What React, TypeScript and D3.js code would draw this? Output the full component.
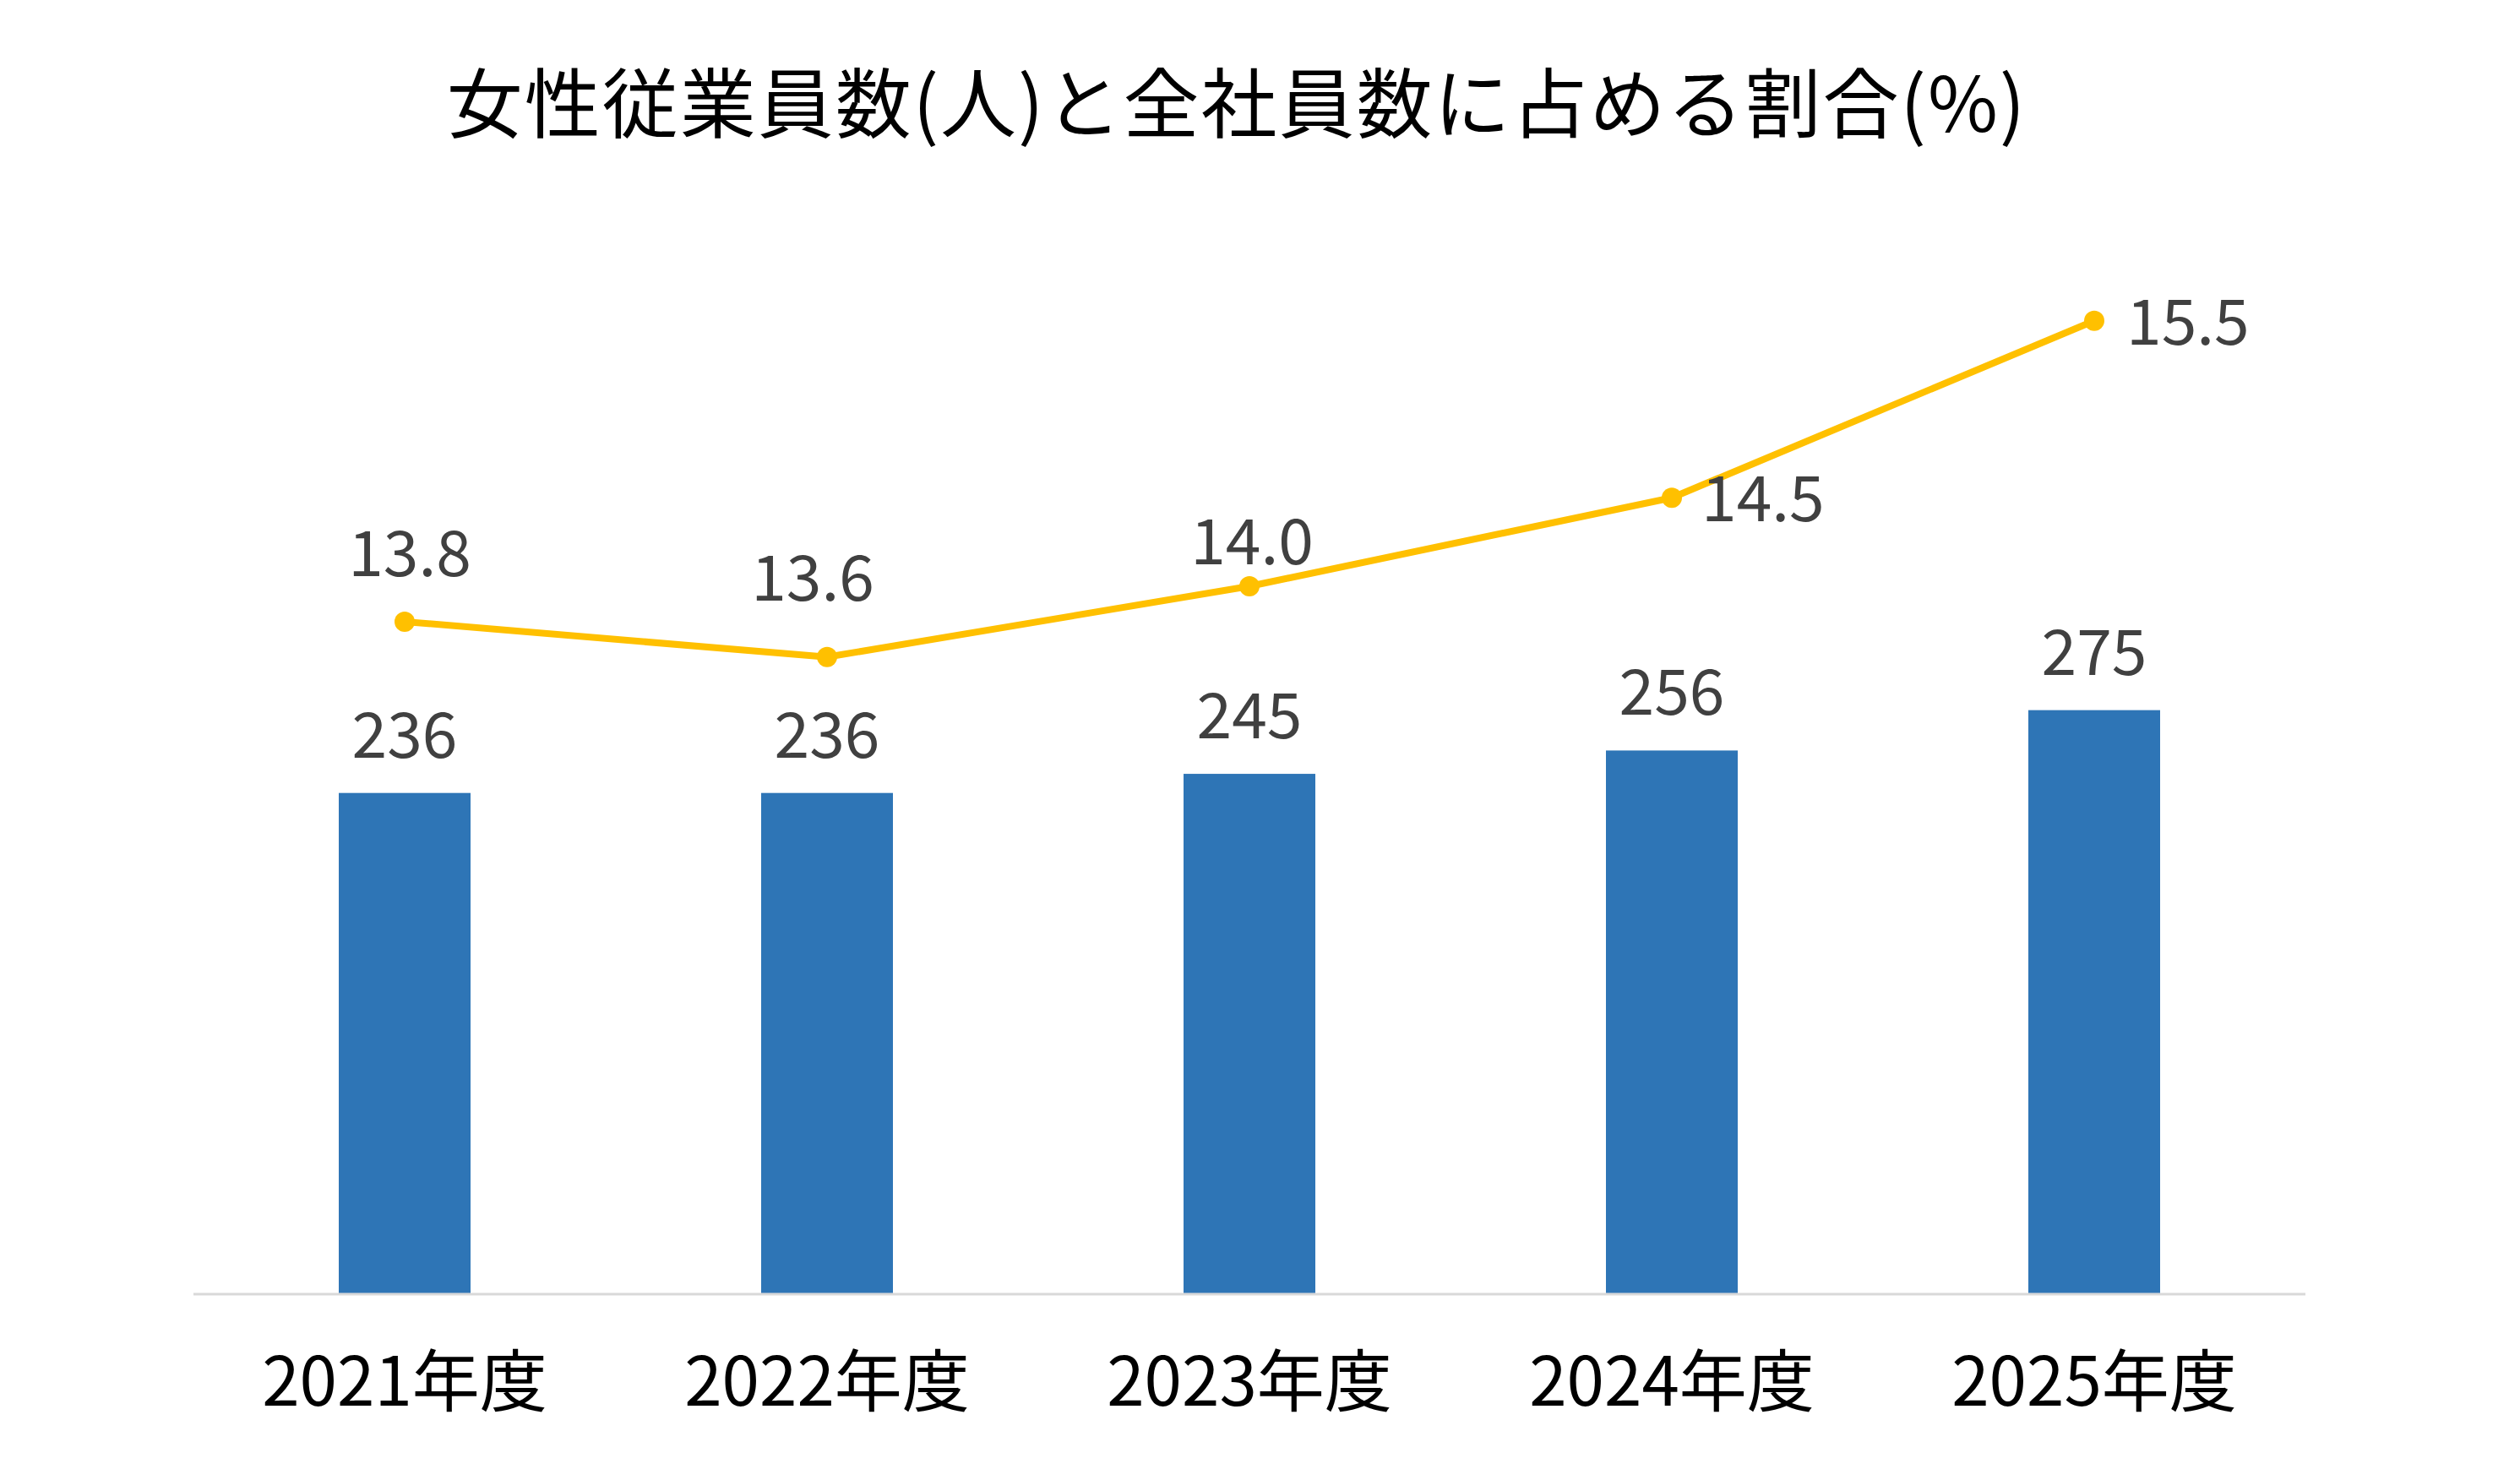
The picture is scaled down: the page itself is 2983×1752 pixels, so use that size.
import { useEffect } from 'react';
import * as d3 from 'd3';

const categories = ['2021年度', '2022年度', '2023年度', '2024年度', '2025年度'];
const femaleCounts = [236, 236, 245, 256, 275];
const femaleRatio = [13.8, 13.6, 14.0, 14.5, 15.5];
const countDomain = [0, 500];
const ratioDomain = [10, 16];
const title = '女性従業員数(人)と全社員数に占める割合(%)';

// hand-placed ratio labels, like the original chart: [dx, dy, anchor]
const ratioLabelNudge: [number, number, string][] = [
  [6, -54, 'middle'],
  [-17, -67, 'middle'],
  [3, -26, 'middle'],
  [35, 28, 'start'],
  [38, 28, 'start'],
];

const W = 2983;
const H = 1752;
const FONT = '"Noto Sans CJK JP", "Noto Sans", sans-serif';

export default function App() {
  useEffect(() => {
    document.body.style.margin = '0';
    document.body.style.overflow = 'hidden';
  }, []);

  const left = 229;
  const right = 2729;
  const bottom = 1532;
  const top = 275;

  const x = d3.scaleBand<string>().domain(categories).range([left, right]).paddingInner(0.688).paddingOuter(0.344);
  const y = d3.scaleLinear().domain(countDomain).range([bottom, top]);
  const y2 = d3.scaleLinear().domain(ratioDomain).range([bottom, top]);
  const cx = (c: string) => (x(c) ?? 0) + x.bandwidth() / 2;

  const line = d3.line<number>()
    .x((_, i) => cx(categories[i]))
    .y(d => y2(d));

  return (
    <svg width={W} height={H} viewBox={`0 0 ${W} ${H}`} style={{ display: 'block', background: '#fff' }} fontFamily={FONT}>
      <rect width={W} height={H} fill="#fff" />
      <text x={1464} y={156} textAnchor="middle" fontSize={90} letterSpacing={2} fill="#000">{title}</text>

      {/* bars */}
      {femaleCounts.map((v, i) => (
        <rect key={categories[i]} x={x(categories[i])} y={y(v)} width={x.bandwidth()} height={bottom - y(v)} fill="#2E75B6" />
      ))}

      {/* baseline */}
      <line x1={left} x2={right} y1={bottom} y2={bottom} stroke="#D9D9D9" strokeWidth={3} />

      {/* bar value labels */}
      {femaleCounts.map((v, i) => (
        <text key={'c' + i} x={cx(categories[i])} y={y(v) - 42} textAnchor="middle" fontSize={75} fill="#404040">{v}</text>
      ))}

      {/* ratio line */}
      <path d={line(femaleRatio) ?? ''} fill="none" stroke="#FFC000" strokeWidth={8} strokeLinejoin="round" />
      {femaleRatio.map((v, i) => (
        <circle key={'p' + i} cx={cx(categories[i])} cy={y2(v)} r={12} fill="#FFC000" />
      ))}
      {femaleRatio.map((v, i) => {
        const [dx, dy, anchor] = ratioLabelNudge[i];
        return (
          <text key={'r' + i} x={cx(categories[i]) + dx} y={y2(v) + dy} textAnchor={anchor} fontSize={75} fill="#404040">
            {v.toFixed(1)}
          </text>
        );
      })}

      {/* category labels */}
      {categories.map(c => (
        <text key={c} x={cx(c)} y={1664} textAnchor="middle" fontSize={80} fill="#000">{c}</text>
      ))}
    </svg>
  );
}
